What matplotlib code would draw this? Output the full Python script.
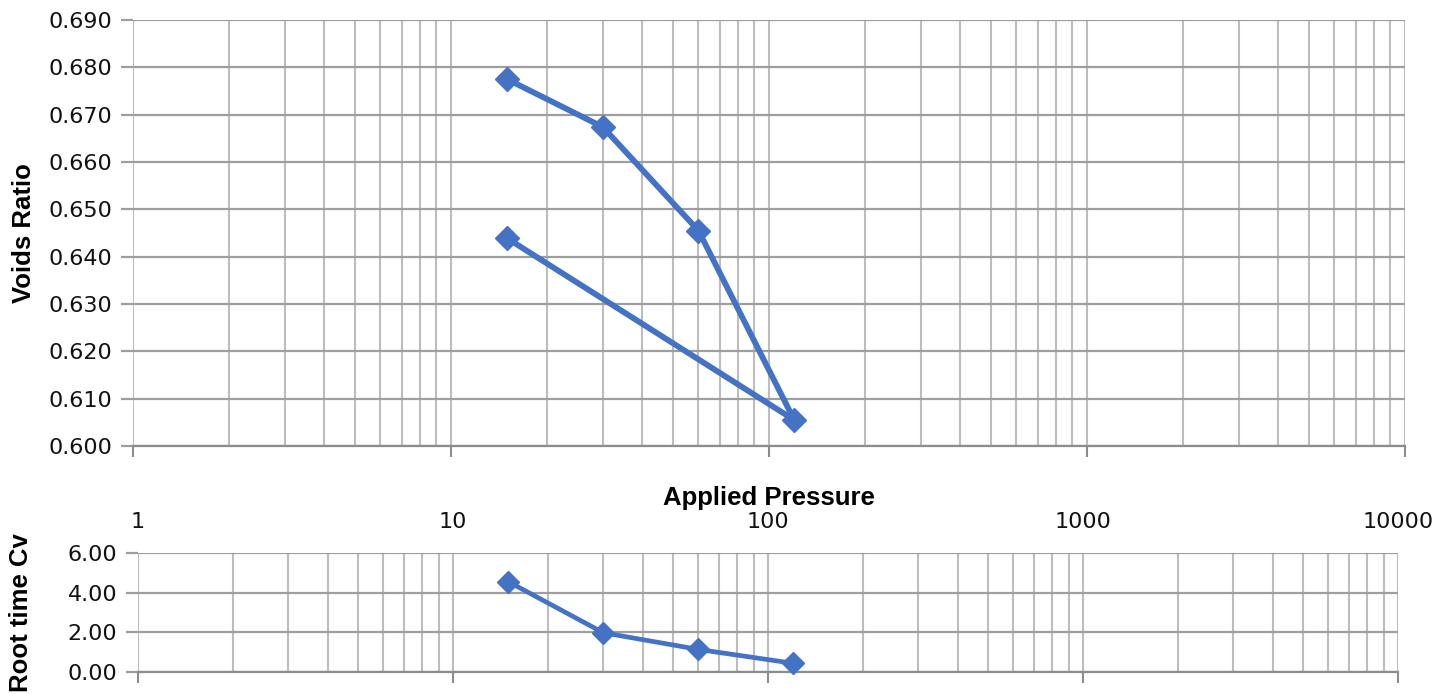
import matplotlib
matplotlib.use("Agg")
import matplotlib.pyplot as plt
from matplotlib.ticker import LogLocator, FixedLocator, FormatStrFormatter, NullFormatter

# Oedometer test results
pressure = [15, 30, 60, 120, 15]
voids_ratio = [0.6775, 0.6674, 0.6455, 0.6055, 0.6439]

cv_pressure = [15, 30, 60, 120]
root_time_cv = [4.55, 1.98, 1.14, 0.44]

x_ticks = [1, 10, 100, 1000, 10000]
x_tick_labels = ["1", "10", "100", "1000", "10000"]
e_ticks = [0.600, 0.610, 0.620, 0.630, 0.640, 0.650, 0.660, 0.670, 0.680, 0.690]
cv_ticks = [0.0, 2.0, 4.0, 6.0]

plt.rcParams["font.family"] = ["DejaVu Sans"]
LABEL_FONT = dict(family=["Liberation Sans", "DejaVu Sans"], fontsize=18.5,
                  fontweight="bold")

W, H = 1434, 694
fig = plt.figure(figsize=(W / 100, H / 100), dpi=100)

LINE = "#4472C4"
GRID_H = "#9e9e9e"
GRID_V = "#bdbdbd"
SPINE = "#8c8c8c"


def frac(l, t, r, b):
    return [l / W, 1 - b / H, (r - l) / W, (b - t) / H]


def style(ax):
    ax.set_xscale("log")
    ax.set_xlim(1, 10000)
    ax.xaxis.set_major_locator(FixedLocator(x_ticks))
    ax.xaxis.set_minor_locator(LogLocator(base=10, subs=range(2, 10), numticks=20))
    ax.xaxis.set_minor_formatter(NullFormatter())
    ax.grid(True, which="major", axis="y", color=GRID_H, linewidth=1.6)
    ax.grid(True, which="both", axis="x", color=GRID_V, linewidth=1.5)
    for side in ("left", "top", "right"):
        ax.spines[side].set_visible(False)
    ax.spines["bottom"].set_color(SPINE)
    ax.spines["bottom"].set_linewidth(1.6)
    ax.tick_params(axis="y", which="both", length=9, color=GRID_H, width=1.6,
                   labelsize=16, labelcolor="#111111", pad=6)
    ax.tick_params(axis="x", which="major", length=8, color=SPINE, width=1.5,
                   direction="out")
    ax.tick_params(axis="x", which="minor", length=0)
    ax.set_axisbelow(True)


# Consolidation curve
ax1 = fig.add_axes(frac(133, 20, 1405, 446))
style(ax1)
ax1.plot(pressure, voids_ratio, color=LINE, linewidth=4.2, marker="D",
         markersize=12, clip_on=False, zorder=3)
ax1.set_ylim(0.600, 0.690)
ax1.set_yticks(e_ticks)
ax1.yaxis.set_major_formatter(FormatStrFormatter("%.3f"))
ax1.tick_params(axis="x", labelbottom=False)
ax1.set_ylabel("Voids Ratio", **LABEL_FONT)
ax1.yaxis.set_label_coords(-0.076, 0.5)
ax1.set_xlabel("Applied Pressure", **LABEL_FONT)
ax1.xaxis.set_label_coords(0.5, -0.095)

# Coefficient of consolidation
ax2 = fig.add_axes(frac(138, 553, 1398, 672))
style(ax2)
ax2.plot(cv_pressure, root_time_cv, color=LINE, linewidth=3.4, marker="D",
         markersize=11.5, clip_on=False, zorder=3)
ax2.set_ylim(0, 6)
ax2.set_yticks(cv_ticks)
ax2.yaxis.set_major_formatter(FormatStrFormatter("%.2f"))
ax2.set_xticks(x_ticks)
ax2.set_xticklabels(x_tick_labels)
ax2.tick_params(axis="x", which="major", bottom=True, labelbottom=False,
                top=False, labeltop=True, labelsize=16, labelcolor="#111111",
                pad=7)
ax2.set_ylabel("Root time Cv", **LABEL_FONT)
ax2.yaxis.set_label_coords(-0.083, 0.5)

fig.savefig("out.png", dpi=100, facecolor="white")
